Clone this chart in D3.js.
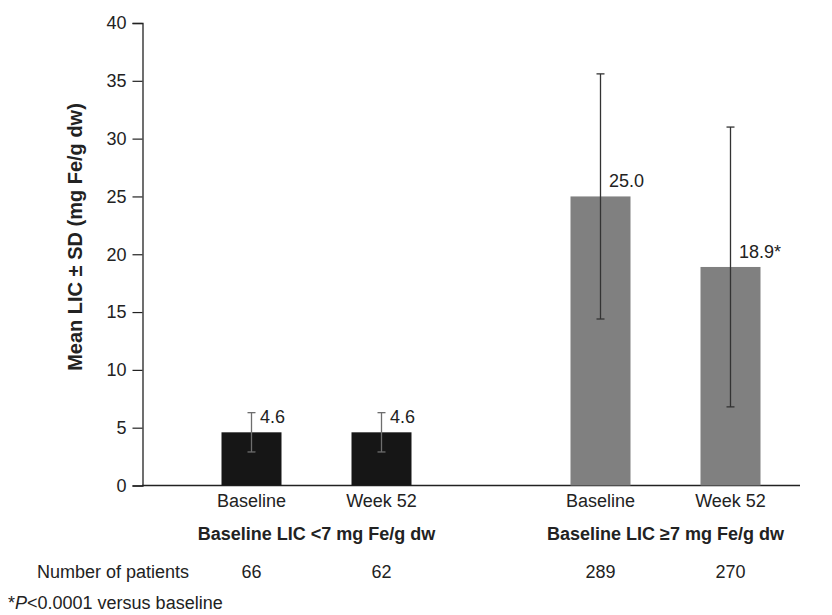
<!DOCTYPE html>
<html>
<head>
<meta charset="utf-8">
<script src="https://cdn.jsdelivr.net/npm/d3@7"></script>
<style>
  body { margin: 0; background: #fff; }
  svg { font-family: Arial, "Liberation Sans", Helvetica, sans-serif; }
</style>
</head>
<body>
<svg></svg>
<script>
// данные
const groups = ["Baseline LIC <7 mg Fe/g dw", "Baseline LIC \u22657 mg Fe/g dw"];
const timepoints = ["Baseline", "Week 52"];
const means = [[4.6, 4.6], [25.0, 18.9]];
const sds = [[1.7, 1.7], [10.6, 12.1]];
const valueLabels = [["4.6", "4.6"], ["25.0", "18.9*"]];
const patients = [[66, 62], [289, 270]];
const barColors = ["#161616", "#808080"];
const errColors = ["#6e6e6e", "#333333"];
const yTicks = [0, 5, 10, 15, 20, 25, 30, 35, 40];

const width = 832, height = 615;
const fs = 18;
const svg = d3.select("svg").attr("width", width).attr("height", height);

const y = d3.scaleLinear().domain([0, 40]).range([485.5, 23]);
const gx = d3.scaleBand().domain(groups).range([142, 840]);
const ix = d3.scalePoint().domain(timepoints).range([109.5, 239.5]);
const barW = 60;

// ось Y
const yAxis = svg.append("g")
    .attr("transform", "translate(142.5,0)")
    .call(d3.axisLeft(y).tickValues(yTicks).tickSize(10).tickPadding(6));
yAxis.select(".domain").attr("stroke", "#222").attr("stroke-width", 1.3);
yAxis.selectAll(".tick line").attr("stroke", "#222").attr("stroke-width", 1.2);
yAxis.selectAll(".tick text").attr("font-size", fs).attr("fill", "#222")
    .attr("font-family", "Arial, 'Liberation Sans', sans-serif");

// ось X (линия)
svg.append("line")
    .attr("x1", 142).attr("x2", 800)
    .attr("y1", y(0)).attr("y2", y(0))
    .attr("stroke", "#222").attr("stroke-width", 1.3);

// подпись оси Y
svg.append("text")
    .attr("transform", `translate(82,237) rotate(-90)`)
    .attr("text-anchor", "middle")
    .attr("font-size", 20).attr("font-weight", "bold").attr("fill", "#222")
    .text("Mean LIC \u00b1 SD (mg Fe/g dw)");

groups.forEach((g, gi) => {
    const gEl = svg.append("g").attr("transform", `translate(${gx(g)},0)`);

    timepoints.forEach((t, ti) => {
        const cx = ix(t);
        const m = means[gi][ti], sd = sds[gi][ti];

        gEl.append("rect")
            .attr("x", cx - barW / 2).attr("width", barW)
            .attr("y", y(m)).attr("height", y(0) - y(m))
            .attr("fill", barColors[gi]);

        // планки погрешностей
        const col = errColors[gi];
        gEl.append("line")
            .attr("x1", cx).attr("x2", cx)
            .attr("y1", y(m + sd)).attr("y2", y(m - sd))
            .attr("stroke", col).attr("stroke-width", 1.3);
        [m + sd, m - sd].forEach(v => {
            gEl.append("line")
                .attr("x1", cx - 4).attr("x2", cx + 4)
                .attr("y1", y(v)).attr("y2", y(v))
                .attr("stroke", col).attr("stroke-width", 1.3);
        });

        gEl.append("text")
            .attr("x", cx + 8.5).attr("y", y(m) - 9)
            .attr("font-size", fs).attr("fill", "#222")
            .text(valueLabels[gi][ti]);

        gEl.append("text")
            .attr("x", cx).attr("y", 507)
            .attr("text-anchor", "middle")
            .attr("font-size", fs).attr("fill", "#222")
            .text(t);

        gEl.append("text")
            .attr("x", cx).attr("y", 578)
            .attr("text-anchor", "middle")
            .attr("font-size", fs).attr("fill", "#222")
            .text(patients[gi][ti]);
    });

    gEl.append("text")
        .attr("x", gx.bandwidth() / 2).attr("y", 540)
        .attr("text-anchor", "middle")
        .attr("font-size", fs).attr("font-weight", "bold").attr("fill", "#222")
        .text(g);
});

svg.append("text")
    .attr("x", 37).attr("y", 578)
    .attr("font-size", fs).attr("fill", "#222")
    .text("Number of patients");

const foot = svg.append("text")
    .attr("x", 8).attr("y", 609)
    .attr("font-size", fs).attr("fill", "#222");
foot.append("tspan").text("*");
foot.append("tspan").attr("font-style", "italic").text("P");
foot.append("tspan").text("<0.0001 versus baseline");
</script>
</body>
</html>
